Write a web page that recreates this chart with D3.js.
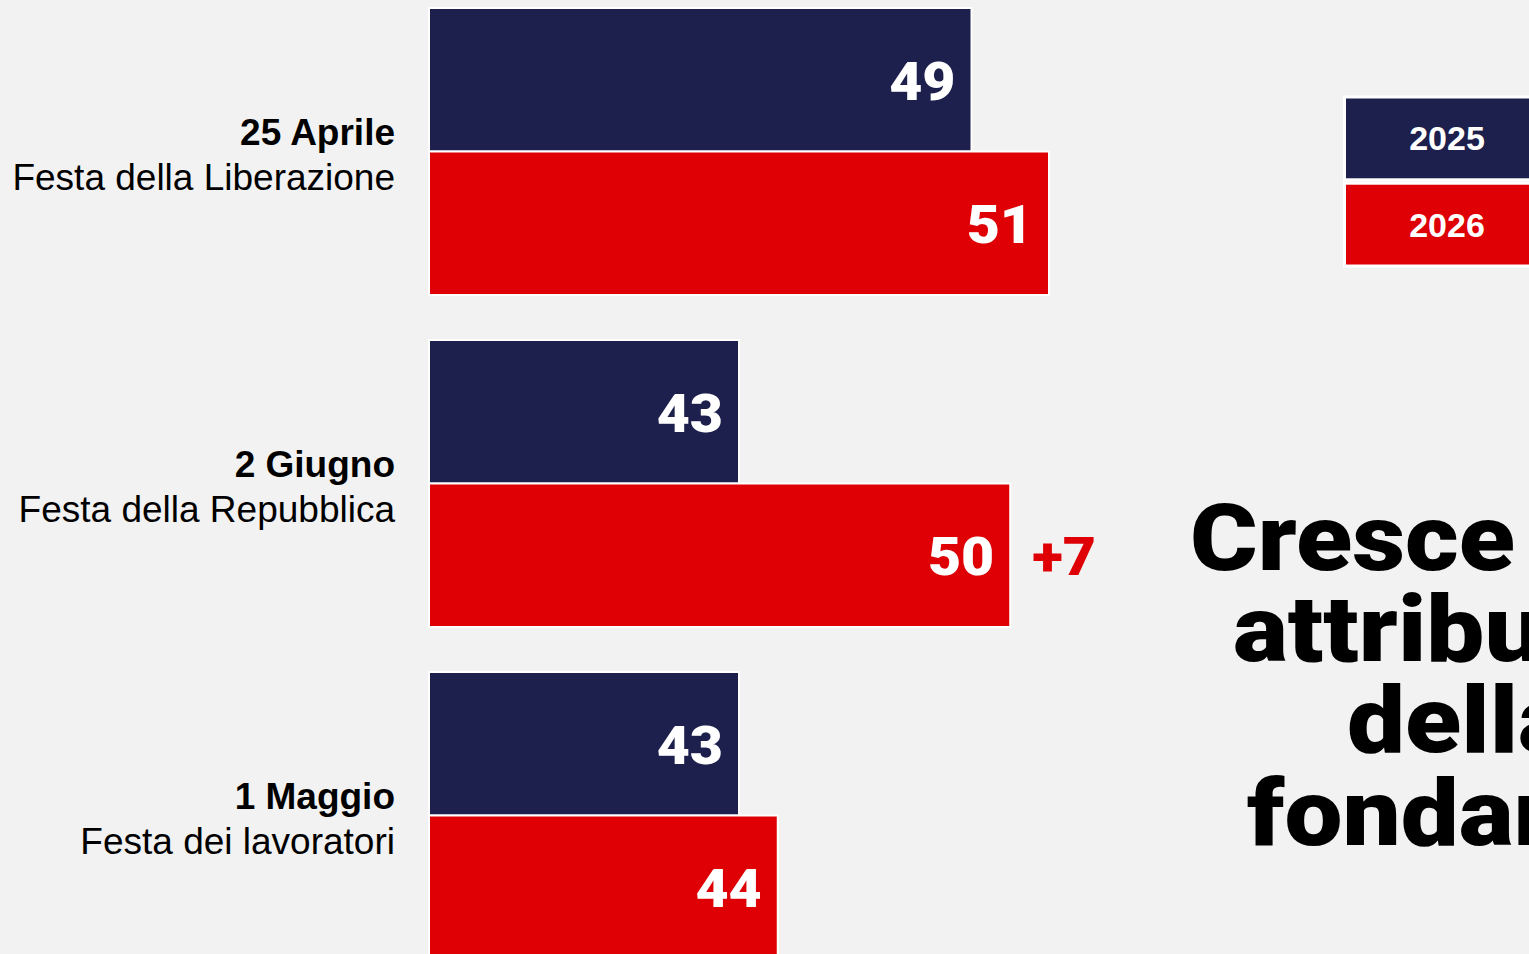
<!DOCTYPE html>
<html><head><meta charset="utf-8">
<script src="https://cdn.jsdelivr.net/npm/d3@7"></script>
<style>
html,body{margin:0;padding:0;background:#f2f2f2;overflow:hidden;}
svg{display:block;}
</style></head>
<body>
<script>
const categories = ["25 Aprile", "2 Giugno", "1 Maggio"];
const subtitles = ["Festa della Liberazione", "Festa della Repubblica", "Festa dei lavoratori"];
const years = ["2025", "2026"];
const values2025 = [49, 43, 43];
const values2026 = [51, 50, 44];
const deltaLabels = [null, "+7", null];
const titleLines = ["Cresce il valore", "attribuito", "della festa", "fondamentale"];

const W = 1529, H = 954;
const colors = {"2025": "#1d1f4d", "2026": "#de0005"};
const heavy = "'Arial Black', 'Roboto', 'Lato', 'Inter', sans-serif";
const sans = "'Liberation Sans', Arial, sans-serif";
const numStretch = 1.08;
const titleStretch = 1.11;

const svg = d3.select("body").append("svg").attr("width", W).attr("height", H);
svg.append("rect").attr("width", W).attr("height", H).attr("fill", "#f2f2f2");

const x = d3.scaleLinear().domain([35, 51]).range([429, 1049]);
const y0 = d3.scaleBand().domain(categories).range([8, 959]).paddingInner(45/332).paddingOuter(0);
const y1 = d3.scaleBand().domain(years).range([0, y0.bandwidth()]);

const data = categories.map((c, i) => ({
  cat: c, sub: subtitles[i], delta: deltaLabels[i],
  bars: [{year: "2025", v: values2025[i]}, {year: "2026", v: values2026[i]}]
}));

const g = svg.selectAll("g.grp").data(data).join("g")
  .attr("class", "grp")
  .attr("transform", d => `translate(0,${y0(d.cat)})`);

g.selectAll("rect").data(d => d.bars).join("rect")
  .attr("x", x(35))
  .attr("y", d => y1(d.year))
  .attr("width", d => x(d.v) - x(35))
  .attr("height", y1.bandwidth())
  .attr("fill", d => colors[d.year])
  .attr("stroke", "#ffffff")
  .attr("stroke-width", 2);

g.selectAll("text.val").data(d => d.bars).join("text")
  .attr("class", "val")
  .attr("transform", d => `translate(${x(d.v) - 16},${y1(d.year) + y1.bandwidth() / 2 + 20}) scale(${numStretch},1)`)
  .attr("text-anchor", "end")
  .attr("fill", "#fff")
  .attr("font-family", heavy)
  .attr("font-weight", 900)
  .attr("font-size", 53)
  .text(d => d.v);

g.filter(d => d.delta).append("text")
  .attr("transform", d => `translate(${x(d.bars[1].v) + 22},${y1("2026") + y1.bandwidth() / 2 + 20}) scale(${numStretch},1)`)
  .attr("fill", colors["2026"])
  .attr("font-family", heavy)
  .attr("font-weight", 900)
  .attr("font-size", 53)
  .text(d => d.delta);

const lab = g.append("text")
  .attr("text-anchor", "end")
  .attr("font-family", sans)
  .attr("font-size", 37)
  .attr("fill", "#000");
lab.append("tspan").attr("x", 395).attr("y", y0.bandwidth() / 2 - 7)
  .attr("font-weight", "bold").text(d => d.cat);
lab.append("tspan").attr("x", 395).attr("y", y0.bandwidth() / 2 + 38)
  .text(d => d.sub);

// Legend
const legY = d3.scaleBand().domain(years).range([97, 266]).paddingInner(0.04);
const leg = svg.selectAll("g.leg").data(years).join("g").attr("class", "leg");
leg.append("rect")
  .attr("x", 1344.5).attr("y", d => legY(d))
  .attr("width", 220).attr("height", legY.bandwidth())
  .attr("fill", d => colors[d]).attr("stroke", "#fff").attr("stroke-width", 3);
leg.append("text")
  .attr("x", 1447).attr("y", d => legY(d) + legY.bandwidth() / 2 + 12)
  .attr("text-anchor", "middle").attr("fill", "#fff")
  .attr("font-family", sans).attr("font-weight", "bold").attr("font-size", 34)
  .text(d => d);

// Title
const titleX = [1190, 1233, 1347, 1247];
const titleY = [570, 661, 752, 845];
svg.append("g").selectAll("text").data(titleLines).join("text")
  .attr("transform", (d, i) => `translate(${titleX[i]},${titleY[i]}) scale(${titleStretch},1)`)
  .attr("font-family", heavy).attr("font-weight", 900).attr("font-size", 93)
  .attr("fill", "#000")
  .text(d => d);
</script>
</body></html>
